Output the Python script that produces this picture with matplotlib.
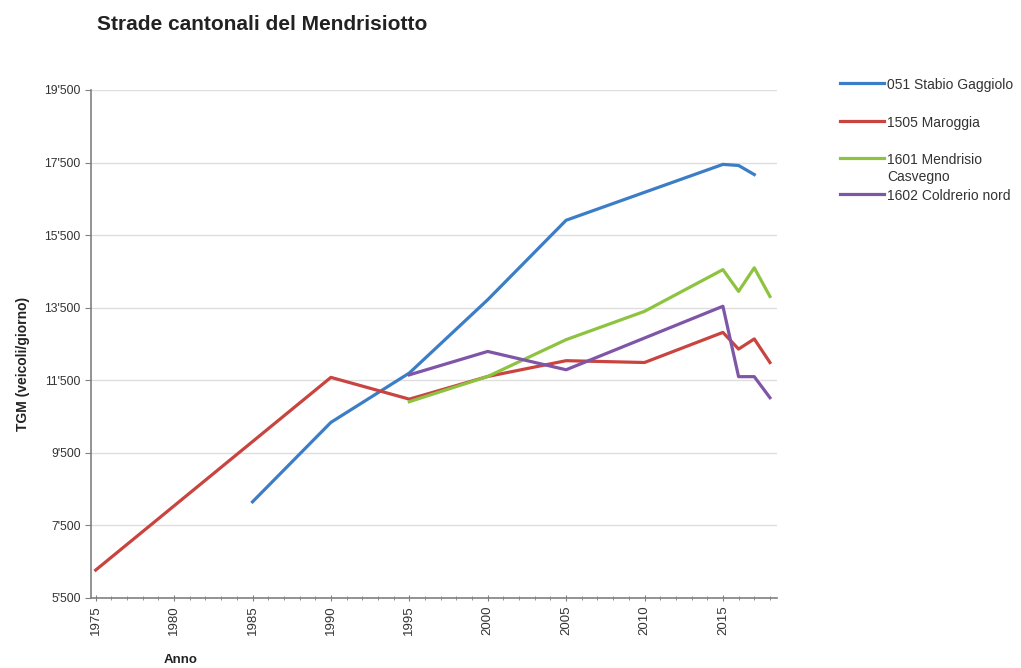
import numpy as np
import matplotlib.pyplot as plt
from matplotlib.lines import Line2D
from matplotlib.ticker import FuncFormatter, MultipleLocator

plt.rcParams['font.family'] = ['Liberation Sans', 'DejaVu Sans']

# Traffico giornaliero medio (TGM)
years_stabio = [1985, 1990, 1995, 2000, 2005, 2010, 2015, 2016, 2017]
tgm_stabio = [8150, 10340, 11700, 13720, 15910, 16680, 17450, 17420, 17170]

years_maroggia = [1975, 1990, 1995, 2000, 2005, 2010, 2015, 2016, 2017, 2018]
tgm_maroggia = [6270, 11580, 10980, 11605, 12040, 11990, 12820, 12360, 12640, 11990]

years_mendrisio = [1995, 2000, 2005, 2010, 2015, 2016, 2017, 2018]
tgm_mendrisio = [10910, 11605, 12620, 13400, 14550, 13950, 14600, 13810]

years_coldrerio = [1995, 2000, 2005, 2015, 2016, 2017, 2018]
tgm_coldrerio = [11650, 12295, 11790, 13540, 11600, 11600, 11020]

labels = ['051 Stabio Gaggiolo', '1505 Maroggia', '1601 Mendrisio\nCasvegno', '1602 Coldrerio nord']
colors = ['#3b7dc6', '#c9443f', '#8dc33f', '#7f55a8']

series = [(years_stabio, tgm_stabio), (years_maroggia, tgm_maroggia),
          (years_mendrisio, tgm_mendrisio), (years_coldrerio, tgm_coldrerio)]

fig = plt.figure(figsize=(10.21, 6.68), dpi=100)
ax = fig.add_axes([91 / 1021, 1 - 598 / 668, (777 - 91) / 1021, (598 - 90) / 668])

for (x, y), c in zip(series, colors):
    ax.plot(x, y, color=c, lw=2.3, solid_joinstyle='round')

ax.set_xlim(1974.7, 2018.45)
ax.set_ylim(5500, 19500)
ax.set_yticks(np.arange(5500, 19501, 2000))
ax.yaxis.set_major_formatter(FuncFormatter(lambda v, p: f"{int(v):,}".replace(',', "'")))
ax.set_xticks(np.arange(1975, 2016, 5))
ax.xaxis.set_minor_locator(MultipleLocator(1))
ax.tick_params(axis='x', labelrotation=90, labelsize=9.5, direction='inout', length=5,
               color='#808080', labelcolor='#333333', pad=3)
ax.tick_params(axis='x', which='minor', direction='inout', length=3, color='#808080')
ax.tick_params(axis='y', labelsize=8.8, length=4, color='#808080', labelcolor='#333333')
ax.grid(axis='y', color='#dedede', lw=1)
ax.set_axisbelow(True)
for s in ['top', 'right']:
    ax.spines[s].set_visible(False)
for s in ['left', 'bottom']:
    ax.spines[s].set_color('#808080')
    ax.spines[s].set_linewidth(1.2)

fig.text(97 / 1021, 1 - 25 / 668, 'Strade cantonali del Mendrisiotto', fontsize=15,
         fontweight='bold', va='center', ha='left', color='#222222')
fig.text(23 / 1021, 1 - 364 / 668, 'TGM (veicoli/giorno)', fontsize=10, fontweight='bold',
         rotation=90, va='center', ha='center', color='#222222')
fig.text(181 / 1021, 1 - 660 / 668, 'Anno', fontsize=9.5, fontweight='bold',
         va='center', ha='center', color='#222222')

# legenda
leg_y = [83, 121, 158, 194]
for lab, c, yy in zip(labels, colors, leg_y):
    fig.add_artist(Line2D([840 / 1021, 884 / 1021], [1 - yy / 668] * 2, color=c, lw=2.3))
    fig.text(887 / 1021, 1 - yy / 668, lab.split('\n')[0], fontsize=10, va='center_baseline',
             ha='left', color='#333333')
    if '\n' in lab:
        fig.text(887 / 1021, 1 - (yy + 17) / 668, lab.split('\n')[1], fontsize=10,
                 va='center_baseline', ha='left', color='#333333')

fig.savefig('out.png', dpi=100)
